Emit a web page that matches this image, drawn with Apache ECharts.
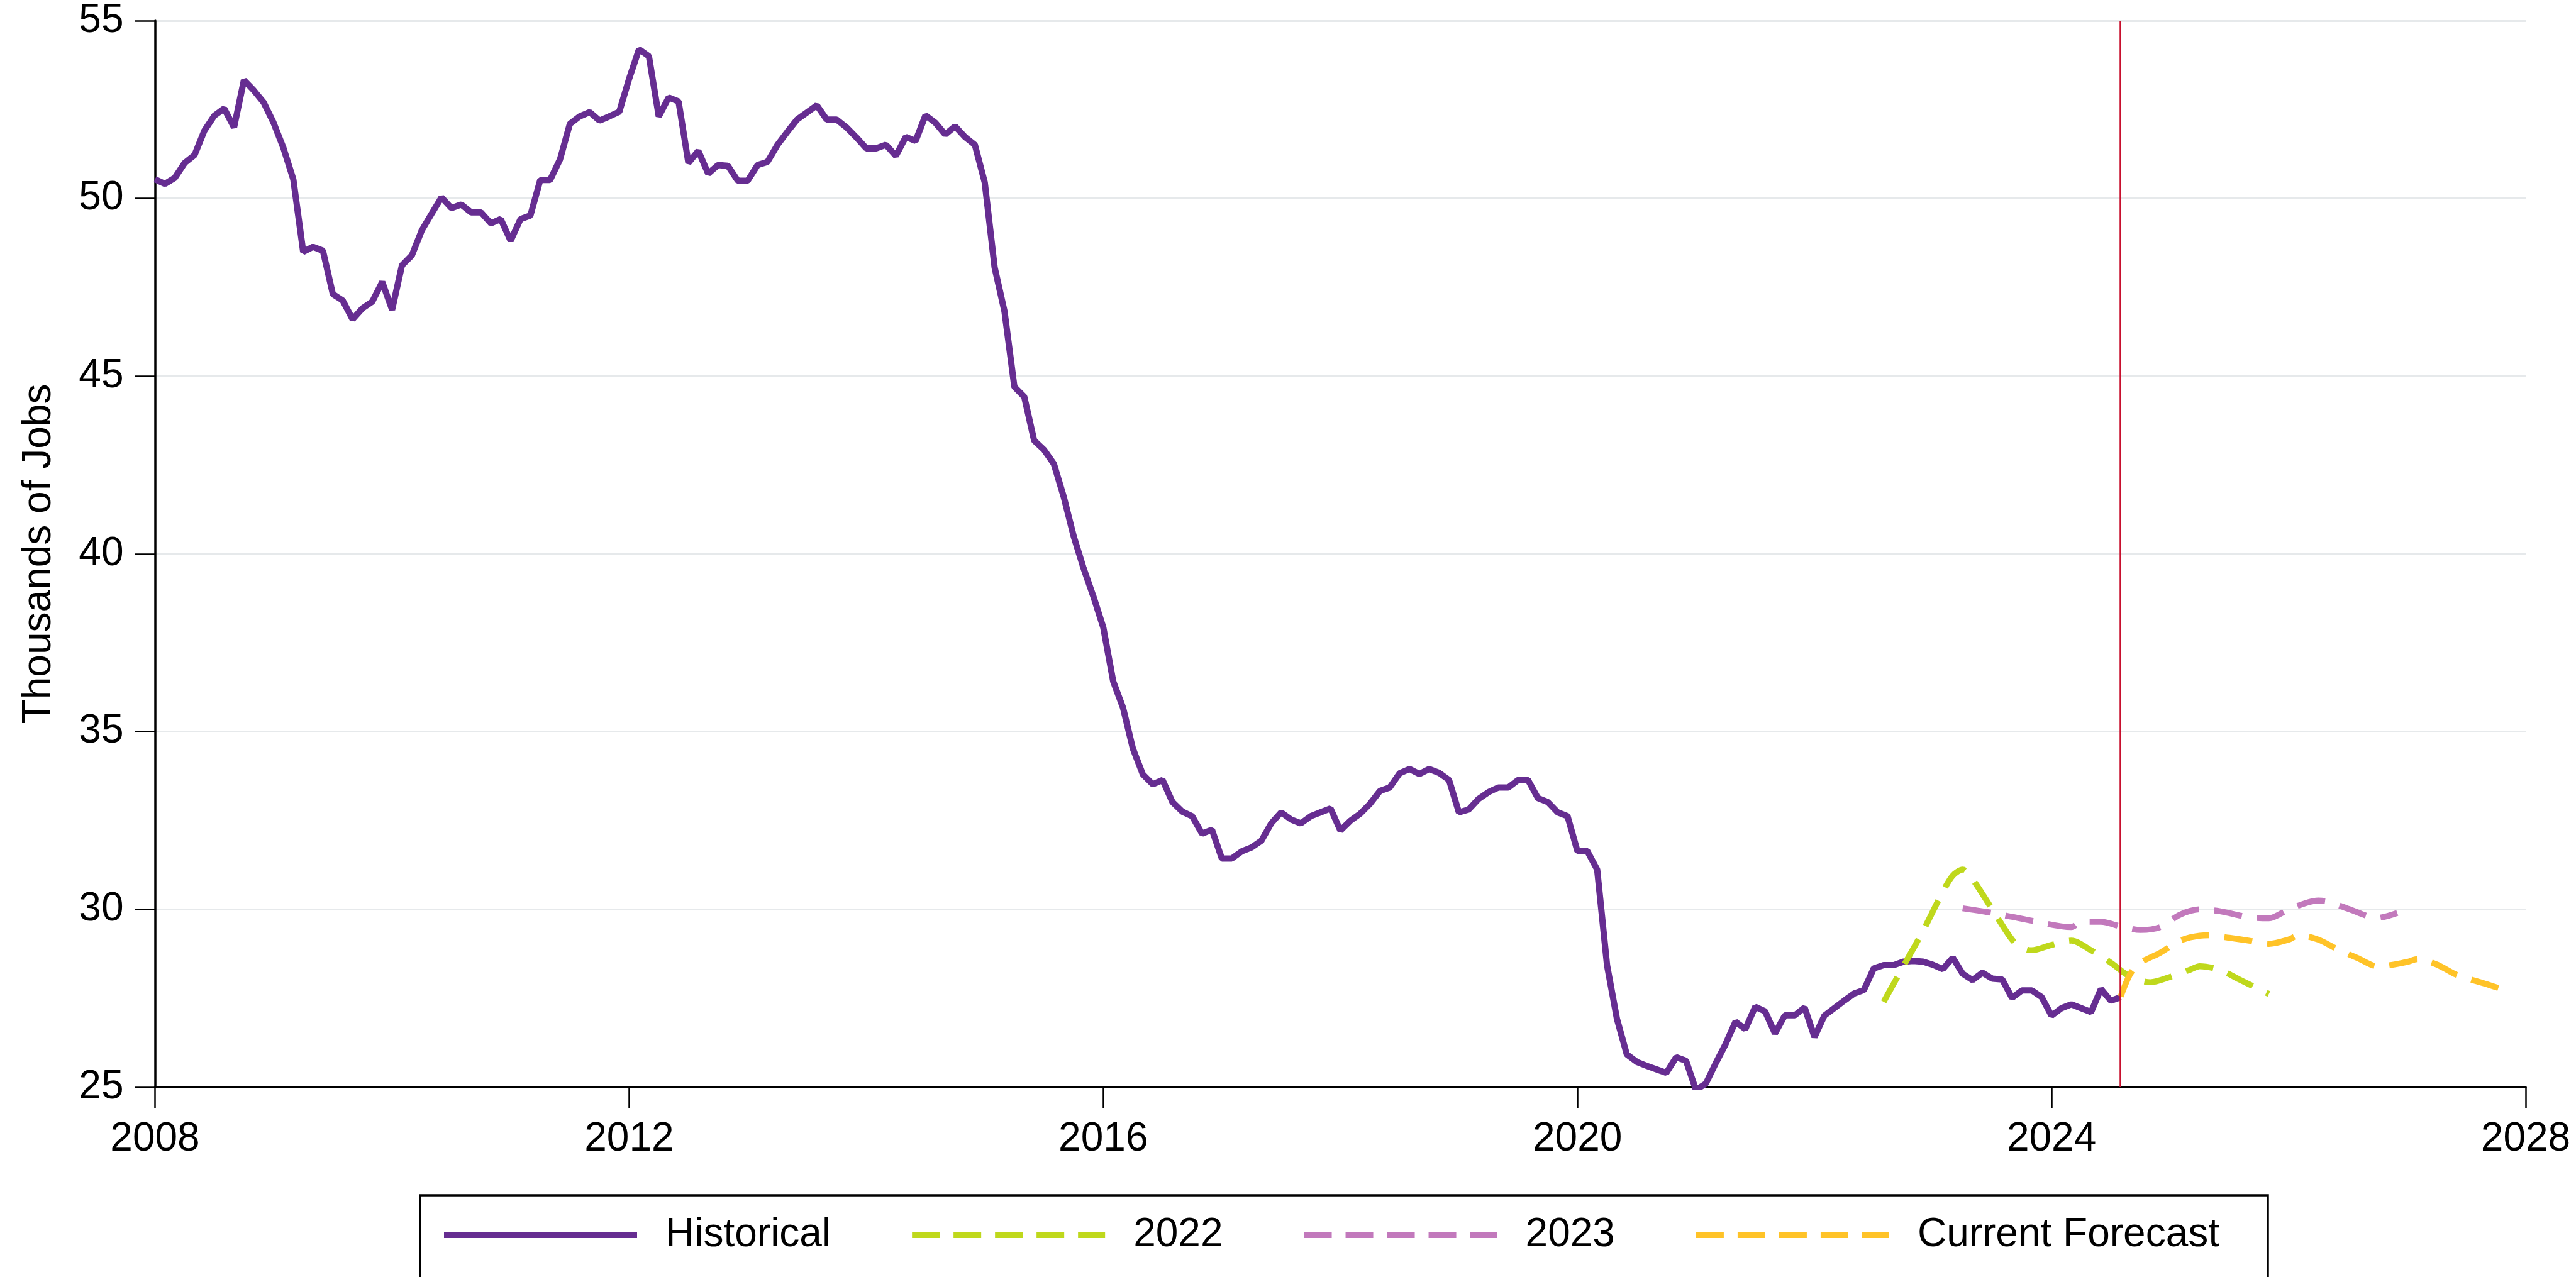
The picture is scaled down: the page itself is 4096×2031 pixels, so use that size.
<!DOCTYPE html>
<html>
<head>
<meta charset="utf-8">
<style>
  html, body { margin: 0; padding: 0; background: #ffffff; }
  #chart { width: 4096px; height: 2031px; }
</style>
<script src="https://cdn.jsdelivr.net/npm/echarts@6/dist/echarts.min.js"></script>
</head>
<body>
<div id="chart"></div>
<script>
// Monthly employment, thousands of jobs, starting January 2008
const historyStartYear = 2008;
const historical = [
  50.54, 50.41, 50.58, 51.0, 51.22, 51.91, 52.33, 52.53, 52.0, 53.33, 53.04, 52.7,
  52.13, 51.42, 50.54, 48.5, 48.64, 48.53, 47.31, 47.13, 46.6, 46.91, 47.1, 47.65,
  46.87, 48.12, 48.4, 49.1, 49.57, 50.03, 49.73, 49.83, 49.61, 49.61, 49.3, 49.42,
  48.81, 49.42, 49.52, 50.52, 50.52, 51.1, 52.1, 52.31, 52.43, 52.19, 52.31, 52.44,
  53.37, 54.2, 54.0, 52.31, 52.84, 52.73, 51.0, 51.34, 50.7, 50.94, 50.92, 50.5,
  50.5, 50.94, 51.03, 51.5, 51.87, 52.22, 52.42, 52.62, 52.22, 52.22, 52.0, 51.72,
  51.41, 51.41, 51.51, 51.2, 51.73, 51.62, 52.34, 52.13, 51.8, 52.03, 51.73, 51.51,
  50.45, 48.06, 46.82, 44.7, 44.42, 43.19, 42.93, 42.53, 41.6, 40.5, 39.6, 38.8,
  37.93, 36.42, 35.67, 34.52, 33.8, 33.52, 33.64, 33.02, 32.75, 32.62, 32.13, 32.24,
  31.43, 31.43, 31.63, 31.74, 31.93, 32.42, 32.73, 32.53, 32.42, 32.62, 32.73, 32.84,
  32.22, 32.49, 32.69, 32.97, 33.33, 33.43, 33.83, 33.95, 33.81, 33.95, 33.84, 33.64,
  32.73, 32.81, 33.11, 33.3, 33.43, 33.43, 33.64, 33.64, 33.13, 33.02, 32.73, 32.62,
  31.64, 31.64, 31.12, 28.43, 26.92, 25.92, 25.71, 25.6, 25.5, 25.4, 25.84, 25.74,
  24.92, 25.1, 25.67, 26.21, 26.84, 26.63, 27.26, 27.13, 26.51, 27.02, 27.02, 27.24,
  26.41, 27.01, 27.22, 27.43, 27.63, 27.73, 28.34, 28.43, 28.43, 28.53, 28.55, 28.53,
  28.44, 28.32, 28.64, 28.19, 28.01, 28.22, 28.05, 28.03, 27.51, 27.72, 27.72, 27.53,
  27.01, 27.22, 27.33, 27.22, 27.11, 27.76, 27.43, 27.53
];

// Forecast vintages: months counted from January 2008, values in thousands
const forecast2022Months = [175, 177, 179, 181, 182, 183, 184, 186, 188, 189, 190, 192, 194, 196, 198, 200, 202, 204, 206, 207, 209, 211, 214];
const forecast2022Values = [27.4, 28.4, 29.4, 30.5, 30.95, 31.12, 30.85, 30.0, 29.15, 28.92, 28.85, 29.0, 29.12, 28.85, 28.5, 28.1, 27.95, 28.1, 28.3, 28.4, 28.3, 28.03, 27.62];

const forecast2023Months = [183, 186, 190, 194, 195, 197, 199, 201, 203, 205, 207, 209, 212, 214, 216, 218, 219, 220, 222, 225, 227];
const forecast2023Values = [30.03, 29.9, 29.68, 29.5, 29.65, 29.65, 29.52, 29.42, 29.5, 29.85, 30.0, 29.95, 29.78, 29.75, 30.0, 30.2, 30.25, 30.22, 30.02, 29.76, 29.9];

const forecastCurrentMonths = [199, 200, 201, 203, 205, 207, 208, 210, 212, 214, 216, 217, 219, 221, 223, 225, 228, 229, 231, 233, 236, 238];
const forecastCurrentValues = [27.55, 28.2, 28.5, 28.78, 29.12, 29.26, 29.27, 29.2, 29.12, 29.03, 29.15, 29.27, 29.15, 28.87, 28.63, 28.4, 28.52, 28.6, 28.45, 28.16, 27.9, 27.72];

// Latest month of actual data (August 2024)
const lastActualMonth = 199;

const yTicks = { min: 25, max: 55, step: 5 };
const xTicks = { min: 2008, max: 2028, step: 4 };

const seriesNames = ['Historical', '2022', '2023', 'Current Forecast'];
const seriesColors = ['#662d91', '#bfd81c', '#c279bc', '#ffc328'];

const toYear = m => historyStartYear + m / 12;
const pairs = (months, values) => months.map((m, i) => [toYear(m), values[i]]);

const histData = historical.map((v, i) => [toYear(i), v]);

const FONT = '"Liberation Sans", Arial, Helvetica, sans-serif';
const SERIES_DASH = [45, 24];
const LEGEND_DASH = [44, 22];
const HIST_W = 10;
const FORECAST_W = 9.5;

const chart = echarts.init(document.getElementById('chart'), null, { renderer: 'canvas' });

// Legend entries: plain line samples, no marker in the middle
const legendEntry = (name, dashed) => ({
  name,
  lineStyle: { width: 10, type: dashed ? LEGEND_DASH : 'solid' },
  itemStyle: { opacity: 0 }
});

const forecastSeries = (idx, months, values) => ({
  name: seriesNames[idx], type: 'line', data: pairs(months, values),
  symbol: 'none', showSymbol: false, smooth: 0.3,
  lineStyle: { color: seriesColors[idx], width: FORECAST_W, type: SERIES_DASH },
  itemStyle: { color: seriesColors[idx] },
  z: 4
});

chart.setOption({
  animation: false,
  backgroundColor: '#ffffff',
  textStyle: { fontFamily: FONT },
  grid: { left: 246.5, right: 80, top: 33, bottom: 302, containLabel: false },
  xAxis: {
    type: 'value',
    min: xTicks.min, max: xTicks.max, interval: xTicks.step,
    axisLine: { show: true, onZero: false, lineStyle: { color: '#000', width: 3.5 } },
    axisTick: { show: true, length: 33, lineStyle: { color: '#000', width: 2.5 } },
    axisLabel: { color: '#000', fontSize: 64, fontFamily: FONT, margin: 51, formatter: v => String(v) },
    splitLine: { show: false }
  },
  yAxis: {
    type: 'value',
    min: yTicks.min, max: yTicks.max, interval: yTicks.step,
    name: 'Thousands of Jobs',
    nameLocation: 'middle',
    nameRotate: 90,
    nameGap: 152,
    nameTextStyle: { color: '#000', fontSize: 64, fontFamily: FONT },
    axisLine: { show: true, lineStyle: { color: '#000', width: 3.5 } },
    axisTick: { show: true, length: 32, lineStyle: { color: '#000', width: 2.5 } },
    axisLabel: { color: '#000', fontSize: 64, fontFamily: FONT, margin: 50 },
    splitLine: { show: true, lineStyle: { color: '#e6e9eb', width: 3 } }
  },
  legend: {
    left: 701,
    top: 1932,
    orient: 'horizontal',
    padding: 0,
    itemWidth: 307,
    itemHeight: 20,
    itemGap: 124,
    selectedMode: false,
    textStyle: { color: '#000', fontSize: 64, fontFamily: FONT, padding: [0, 0, 0, 40] },
    data: [
      legendEntry(seriesNames[0], false),
      legendEntry(seriesNames[1], true),
      legendEntry(seriesNames[2], true),
      legendEntry(seriesNames[3], true)
    ]
  },
  graphic: [{
    type: 'rect',
    silent: true,
    z: 0,
    shape: { x: 668, y: 1901, width: 2938, height: 170 },
    style: { fill: 'none', stroke: '#000', lineWidth: 3.5 }
  }],
  series: [
    {
      name: seriesNames[0], type: 'line', data: histData,
      symbol: 'none', showSymbol: false,
      lineStyle: { color: seriesColors[0], width: HIST_W },
      itemStyle: { color: seriesColors[0] },
      z: 3,
      markLine: {
        silent: true, symbol: ['none', 'none'], animation: false,
        label: { show: false },
        lineStyle: { color: '#c8102e', width: 2.5, type: 'solid', opacity: 1 },
        emphasis: { disabled: true },
        data: [{ xAxis: toYear(lastActualMonth) }]
      }
    },
    forecastSeries(1, forecast2022Months, forecast2022Values),
    forecastSeries(2, forecast2023Months, forecast2023Values),
    forecastSeries(3, forecastCurrentMonths, forecastCurrentValues)
  ]
});
</script>
</body>
</html>
